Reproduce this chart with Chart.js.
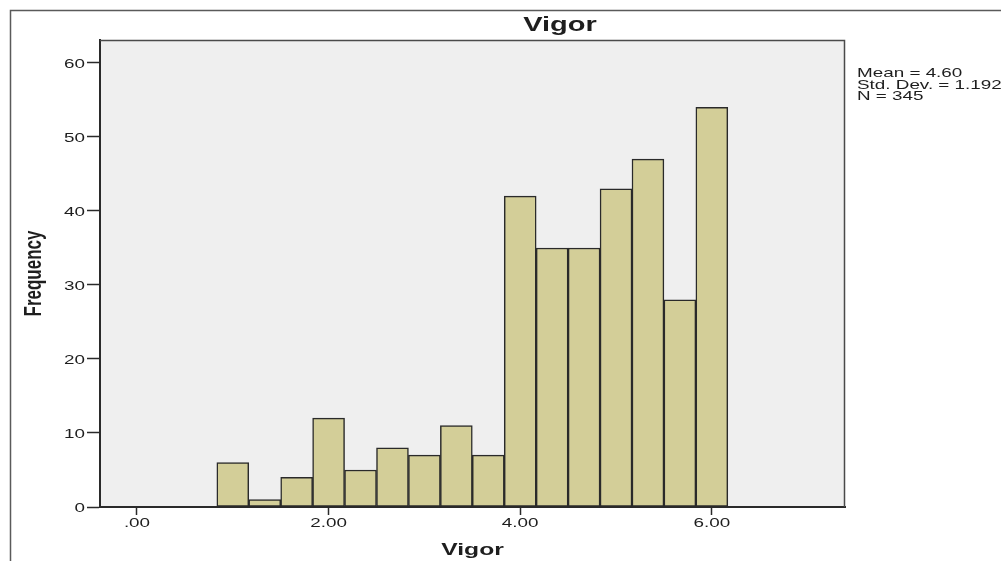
<!DOCTYPE html>
<html>
<head>
<meta charset="utf-8">
<script src="https://cdn.jsdelivr.net/npm/chart.js@4/dist/chart.umd.min.js"></script>
<style>
  html, body { margin: 0; padding: 0; background: #fff; }
  #wrap { width: 1001px; height: 561px; position: relative; }
</style>
</head>
<body>
<div id="wrap"><canvas id="hist"></canvas></div>
<script>
/* ── Vigor histogram (SPSS style) ── */

/* ===================== DATA ===================== */
const chartTitle = 'Vigor';
const xTitle = 'Vigor';
const yTitle = 'Frequency';
const binCenters = [1.0, 1.3333, 1.6667, 2.0, 2.3333, 2.6667, 3.0, 3.3333,
                    3.6667, 4.0, 4.3333, 4.6667, 5.0, 5.3333, 5.6667, 6.0];
const frequencies = [6, 1, 4, 12, 5, 8, 7, 11, 7, 42, 35, 35, 43, 47, 28, 54];
const xTickValues = [0, 2, 4, 6];
const yTickValues = [0, 10, 20, 30, 40, 50, 60];
const statLines = ['Mean = 4.60', 'Std. Dev. = 1.192', 'N = 345'];

/* ===================== STYLE ===================== */
const STRETCH = 1.45;          // the source image is widened horizontally
const FONT = '"Liberation Sans", Arial, sans-serif';
const INK = '#1e1e1e';

function stretchedText(ctx, text, x, y, font, align, baseline, rotate) {
    ctx.save();
    ctx.translate(x, y);
    ctx.scale(STRETCH, 1);
    if (rotate) ctx.rotate(-Math.PI / 2);
    ctx.font = font;
    ctx.fillStyle = INK;
    ctx.textAlign = align;
    ctx.textBaseline = baseline;
    ctx.fillText(text, 0, 0);
    ctx.restore();
}

/* frame, plot background, titles, tick labels and stats box */
const spssDecor = {
    id: 'spssDecor',
    beforeDraw(chart) {
        const { ctx, chartArea: a } = chart;
        ctx.save();
        ctx.fillStyle = '#efefef';
        ctx.fillRect(a.left, a.top, a.right - a.left, a.bottom - a.top);
        ctx.strokeStyle = '#5a5a5a';
        ctx.lineWidth = 1.5;
        ctx.strokeRect(10.5, 10.5, 1200, 1200);
        ctx.restore();
    },
    afterDraw(chart) {
        const { ctx, chartArea: a, scales } = chart;
        ctx.save();
        ctx.strokeStyle = '#4a4a4a';
        ctx.lineWidth = 1.5;
        ctx.beginPath();
        ctx.moveTo(a.left, a.top + 0.5);
        ctx.lineTo(a.right - 0.5, a.top + 0.5);
        ctx.lineTo(a.right - 0.5, a.bottom);
        ctx.stroke();
        ctx.restore();

        const tickFont = '13px ' + FONT;
        scales.y.ticks.forEach(t => {
            stretchedText(ctx, String(t.value), 85, scales.y.getPixelForValue(t.value) + 1,
                tickFont, 'right', 'middle');
        });
        scales.x.ticks.forEach(t => {
            const lbl = t.value === 0 ? '.00' : t.value.toFixed(2);
            stretchedText(ctx, lbl, scales.x.getPixelForValue(t.value), 527,
                tickFont, 'center', 'alphabetic');
        });

        stretchedText(ctx, chartTitle, 560, 31, 'bold 20px ' + FONT, 'center', 'alphabetic');
        stretchedText(ctx, xTitle, (a.left + a.right) / 2, 555, 'bold 17px ' + FONT, 'center', 'alphabetic');
        stretchedText(ctx, yTitle, 41, (a.top + a.bottom) / 2, 'bold 17px ' + FONT, 'center', 'alphabetic', true);

        statLines.forEach((s, i) => {
            stretchedText(ctx, s, 857, 77 + i * 11.5, '13px ' + FONT, 'left', 'alphabetic');
        });
    }
};

/* ===================== CHART ===================== */
const ctx = document.getElementById('hist').getContext('2d');
new Chart(ctx, {
    type: 'bar',
    data: {
        datasets: [{
            data: binCenters.map((c, i) => ({ x: c, y: frequencies[i] })),
            backgroundColor: '#d3ce98',
            borderColor: '#2a2a2a',
            borderWidth: 1.5,
            borderSkipped: false,
            barPercentage: 1,
            categoryPercentage: 1
        }]
    },
    options: {
        responsive: true,
        maintainAspectRatio: false,
        animation: false,
        layout: { padding: { left: 0, top: 40, right: 156, bottom: 0 } },
        plugins: {
            legend: { display: false },
            tooltip: { enabled: false }
        },
        scales: {
            x: {
                type: 'linear',
                min: -0.386,
                max: 7.39,
                offset: false,
                afterBuildTicks: s => { s.ticks = xTickValues.map(v => ({ value: v })); },
                afterFit: s => { s.height = 54; },
                ticks: { color: 'rgba(0,0,0,0)', font: { size: 13 } },
                grid: { offset: false, drawOnChartArea: false, drawTicks: true, tickLength: 8, tickColor: '#2a2a2a', tickWidth: 1.5 },
                border: { display: true, color: '#2a2a2a', width: 2 }
            },
            y: {
                min: 0,
                max: 63.1,
                afterBuildTicks: s => { s.ticks = yTickValues.map(v => ({ value: v })); },
                afterFit: s => { s.width = 100; },
                ticks: { color: 'rgba(0,0,0,0)', font: { size: 13 } },
                grid: { drawOnChartArea: false, drawTicks: true, tickLength: 13, tickColor: '#2a2a2a', tickWidth: 1.5 },
                border: { display: true, color: '#2a2a2a', width: 2 }
            }
        }
    },
    plugins: [spssDecor]
});
</script>
</body>
</html>
